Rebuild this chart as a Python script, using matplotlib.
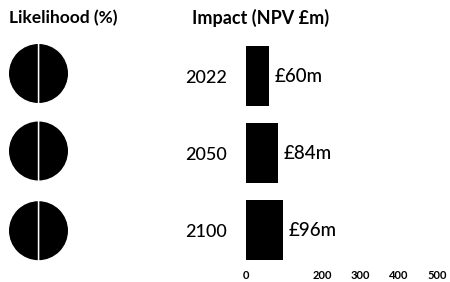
import matplotlib
matplotlib.use("Agg")
import matplotlib.pyplot as plt

# ---- data ----
years = ["2022", "2050", "2100"]
impact = [60, 84, 96]                 # NPV £m
impact_labels = ["£60m", "£84m", "£96m"]
likelihood = [50, 50, 50]             # %
x_ticks = [0, 200, 300, 400, 500]

plt.rcParams['font.family'] = ['Lato', 'DejaVu Sans']

W, H = 450, 282
fig = plt.figure(figsize=(W / 100, H / 100), dpi=100)
fig.patch.set_facecolor('white')

def px_rect(left, top, width, height):
    return [left / W, 1 - (top + height) / H, width / W, height / H]

# ---- bar axes ----
ax = fig.add_axes(px_rect(246, 37.5, 191, 231))
pos = list(range(len(years)))
bars = ax.barh(pos, impact, height=0.77, color='black')
ax.set_xlim(0, 500)
ax.set_ylim(len(years) - 0.5, -0.5)
ax.set_xticks(x_ticks, [str(t) for t in x_ticks])
ax.set_yticks(pos, years)
for s in ax.spines.values():
    s.set_visible(False)
ax.tick_params(axis='x', length=0, pad=1, labelsize=8)
for lbl in ax.get_xticklabels():
    lbl.set_fontweight('bold')
ax.tick_params(axis='y', length=0, pad=14, labelsize=13)
for lbl in ax.get_yticklabels():
    lbl.set_fontweight('medium')
texts = ax.bar_label(bars, labels=impact_labels, padding=4, fontsize=13.5)
for t in texts:
    t.set_fontweight('medium')

# ---- pies ----
pie_centers = [73.5, 151, 230.7]
d = 61
for cy, lk in zip(pie_centers, likelihood):
    pax = fig.add_axes(px_rect(38.5 - d / 2, cy - d / 2, d, d))
    pax.pie([lk, 100 - lk], colors=['black', 'black'], startangle=90,
            counterclock=False,
            wedgeprops=dict(edgecolor='white', linewidth=1.0))
    pax.set_xlim(-1.01, 1.01)
    pax.set_ylim(-1.01, 1.01)
    pax.set_aspect('equal')
    pax.axis('off')

# ---- titles ----
fig.text(9 / W, 1 - 18 / H, "Likelihood (%)", fontsize=12.5, fontweight='bold',
         va='center', ha='left')
fig.text(192 / W, 1 - 18 / H, "Impact (NPV £m)", fontsize=13, fontweight='bold',
         va='center', ha='left')

fig.savefig("out.png", dpi=100, facecolor='white')
